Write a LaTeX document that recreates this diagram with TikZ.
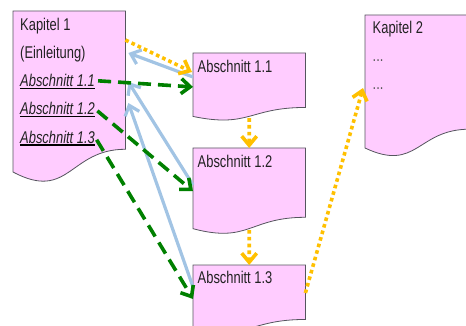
\documentclass[tikz,border=0pt]{standalone}
\usepackage{fontspec}
\setmainfont{Liberation Sans}[FakeStretch=0.76]
\usetikzlibrary{arrows.meta,calc}

\definecolor{rosa}{HTML}{FFCCFF}
\definecolor{rand}{HTML}{55555E}
\definecolor{gelb}{HTML}{FFC000}
\definecolor{gruen}{HTML}{008000}
\definecolor{hellblau}{HTML}{A2C4E4}
\definecolor{schrift}{HTML}{222222}

\tikzset{
	dokument/.style={fill=rosa, draw=rand, line width=0.8pt},
	rahmen/.style={rectangle, anchor=north west, inner sep=0pt},
	beschriftung/.style={anchor=base west, inner sep=0pt, text=schrift, font=\fontsize{17pt}{19pt}\selectfont},
	unterstrich/.style={draw=black, line width=1.4pt},
	spitze/.style={-{Straight Barb[length=9pt,width=15pt]}},
	folge/.style={draw=gelb, line width=3.6pt, dash pattern=on 3.6pt off 3.2pt, spitze},
	verweis/.style={draw=gruen, line width=3.6pt, dash pattern=on 13pt off 7pt, spitze},
	zurueck/.style={draw=hellblau, line width=3.2pt, spitze}
}

% Seite mit Wellenkante: Name, x, y, Breite, Hoehe
\newcommand{\seite}[5]{%
	\node[rahmen, minimum width=#4pt, minimum height=#5pt] (#1) at (#2,#3) {};
	\filldraw[dokument] (#1.north west) -- (#1.north east)
		-- ($(#1.north east)!0.802!(#1.south east)$)
		.. controls ($(#1.north)!0.802!(#1.south)$) and ($(#1.north)!1.107!(#1.south)$)
		.. ($(#1.north west)!0.934!(#1.south west)$) -- cycle;
}

\begin{document}
\begin{tikzpicture}[x=1pt,y=-1pt]
	
	\useasboundingbox (0,0) rectangle (466,326);
	
	\seite{k1}{13}{11}{112}{172}
	\seite{a11}{193}{53}{112}{67.5}
	\seite{a12}{193}{148}{112}{86}
	\seite{a13}{193}{265}{112}{67.5}
	\seite{k2}{365}{15}{104}{142}
	
	\node[beschriftung] (k1titel) at ($(k1.north west)+(7,19.5)$) {Kapitel 1};
	\node[beschriftung] (k1einl) at ($(k1.north west)+(7,47.3)$) {(Einleitung)};
	\node[beschriftung, font=\fontsize{17pt}{19pt}\selectfont\itshape] (s11) at ($(k1.north west)+(7,75.7)$) {Abschnitt 1.1};
	\node[beschriftung, font=\fontsize{17pt}{19pt}\selectfont\itshape] (s12) at ($(k1.north west)+(7,104)$) {Abschnitt 1.2};
	\node[beschriftung, font=\fontsize{17pt}{19pt}\selectfont\itshape] (s13) at ($(k1.north west)+(7,132.3)$) {Abschnitt 1.3};
	
	\draw[unterstrich] ([yshift=-1.8pt]s11.base west) -- ([yshift=-1.8pt]s11.base east);
	\draw[unterstrich] ([yshift=-1.8pt]s12.base west) -- ([yshift=-1.8pt]s12.base east);
	\draw[unterstrich] ([yshift=-1.8pt]s13.base west) -- ([yshift=-1.8pt]s13.base east);
	
	\node[beschriftung] (t11) at ($(a11.north west)+(4.5,19.3)$) {Abschnitt 1.1};
	\node[beschriftung] (t12) at ($(a12.north west)+(4.5,19.3)$) {Abschnitt 1.2};
	\node[beschriftung] (t13) at ($(a13.north west)+(4.5,18)$) {Abschnitt 1.3};
	
	\node[beschriftung] (k2titel) at ($(k2.north west)+(7.5,18.3)$) {Kapitel 2};
	\node[beschriftung, text=schrift!75] (k2p1) at ($(k2.north west)+(7.5,46.3)$) {...};
	\node[beschriftung, text=schrift!75] (k2p2) at ($(k2.north west)+(7.5,74.3)$) {...};
	
	% zurueck zum Kapitel
	\draw[zurueck] ($(a11.north west)+(0,24)$) -- ($(k1.north east)+(3,42)$);
	\draw[zurueck] ($(a12.north west)+(0,37)$) -- ($(k1.north east)+(3,71)$);
	\draw[zurueck] ($(a13.north west)+(0,22)$) -- ($(k1.north east)+(3,92)$);
	
	% Verweise auf die Abschnitte
	\draw[verweis, shorten <=3pt] (s11.east) -- (a11.west);
	\draw[verweis, shorten <=3pt] (s12.east) -- (a12.west);
	\draw[verweis, shorten <=3pt] (s13.east) -- (a13.west);
	
	% Lesereihenfolge
	\draw[folge] ($(k1.north east)+(0,29)$) -- ($(a11.north west)+(-1,19)$);
	\draw[folge] ($(a11.north)!0.96!(a11.south)$) -- (a12.north);
	\draw[folge] ($(a12.north)!0.95!(a12.south)$) -- (a13.north);
	\draw[folge] ($(a13.north east)+(0,28)$) -- ($(k2.north west)+(-2,73)$);
	
\end{tikzpicture}
\end{document}
